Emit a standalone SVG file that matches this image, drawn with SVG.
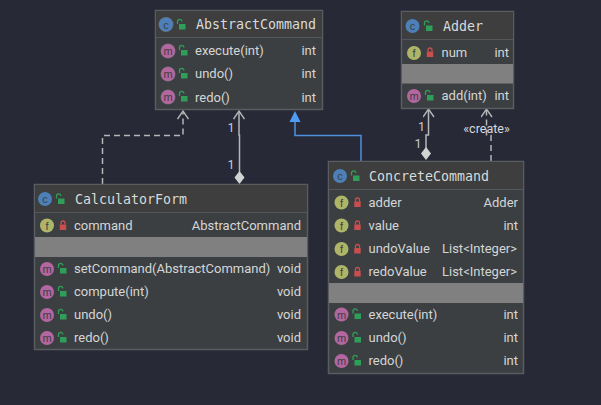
<svg xmlns="http://www.w3.org/2000/svg" width="601" height="405" viewBox="0 0 601 405">
  <style>
    text { font-family: Roboto, "Liberation Sans", sans-serif; font-size: 13px; fill: #d4d6d6; }
    .title { font-family: "DejaVu Sans Mono", monospace; font-size: 13.3px; fill: #d8dadb; }
    .end { text-anchor: end; }
    .mark { font-size: 11px; fill: #3c3f41; text-anchor: middle; font-family: "Liberation Sans", sans-serif; }
    .card { fill: #3c3f41; stroke: #5a5d5f; stroke-width: 1.5; }
    .head { fill: #3d3e3d; }
    .rule { stroke: #55585a; stroke-width: 1; }
    .gray { fill: #808080; }
    .wire { fill: none; stroke: #b4b6b7; stroke-width: 1.5; }
    .dash { stroke-dasharray: 6 4; }
    .small { font-size: 12.5px; fill: #c8cacb; text-anchor: middle; }
  </style>
  <defs>
    <g id="lock-open">
      <path d="M-3.500 -1 v-2.500 a2.200 2.200 0 0 1 4.400 0" fill="none" stroke="#2f9e58" stroke-width="1.3"/>
      <rect x="-2" y="-1" width="6.500" height="5.500" fill="#2f9e58"/>
    </g>
    <g id="lock-shut">
      <path d="M-2 -1 v-1.500 a2 2 0 0 1 4 0 v1.500" fill="none" stroke="#c94f4f" stroke-width="1.3"/>
      <rect x="-3.200" y="-1" width="6.400" height="5.500" fill="#c94f4f"/>
    </g>
    <g id="icon-c"><circle r="7" fill="#4d7fb8"/><text class="mark" y="4">c</text></g>
    <g id="icon-f"><circle r="7" fill="#aeb569"/><text class="mark" y="4">f</text></g>
    <g id="icon-m"><circle r="7" fill="#b3669f"/><text class="mark" y="4">m</text></g>
    <path id="diamond" d="M0 0 L5 6.500 L0 13 L-5 6.500 Z" fill="#d2d3d3"/>
    <marker id="open" markerWidth="10" markerHeight="12" refX="9" refY="6" orient="auto" markerUnits="userSpaceOnUse" viewBox="0 0 10 12">
      <path d="M1 0.500 L9 6 L1 11.500" fill="none" stroke="#b4b6b7" stroke-width="1.4"/>
    </marker>
  </defs>
  <rect width="601" height="405" fill="#272937"/>

  <g id="connectors">
    <path class="wire dash" d="M102.500 184 V135.500 H183 V111" marker-end="url(#open)"/>
    <path class="wire" d="M239.500 172 V135 H239 V111" marker-end="url(#open)"/>
    <use href="#diamond" x="239.500" y="171"/>
    <path d="M361 161 V135.500 H295 V121" fill="none" stroke="#4f8fe0" stroke-width="1.500"/>
    <path d="M295 111 L300.500 122 L289.500 122 Z" fill="#4f9cf5"/>
    <path class="wire" d="M426 148 V135 H428.500 V109" stroke-width="2" marker-end="url(#open)"/>
    <use href="#diamond" x="426" y="147"/>
    <path class="wire dash" d="M491 161 V135.500 H486.500 V109" marker-end="url(#open)"/>
    <text class="small" x="231" y="132">1</text>
    <text class="small" x="231" y="169">1</text>
    <text class="small" x="421.500" y="131">1</text>
    <text class="small" x="418" y="148">1</text>
    <text class="small" x="486.500" y="133" style="fill:#d8dadb">«create»</text>
  </g>

  <g id="AbstractCommand">
    <rect class="card" x="155.500" y="10.500" width="167" height="99"/>
    <rect class="head" x="156" y="11" width="166" height="26"/>
    <line class="rule" x1="156" y1="37.500" x2="322" y2="37.500"/>
    <circle cx="166" cy="24.500" r="7.500" fill="#6a6d6f"/>
    <use href="#icon-c" x="166" y="24.500"/>
    <use href="#lock-open" x="181" y="25"/>
    <text class="title" x="196" y="29">AbstractCommand</text>
    <circle cx="168" cy="51" r="7.500" fill="#6a6d6f"/><use href="#icon-m" x="168" y="51"/><use href="#lock-open" x="183" y="51"/>
    <text x="195" y="55">execute(int)</text><text class="end" x="316" y="55">int</text>
    <circle cx="168" cy="74" r="7.500" fill="#6a6d6f"/><use href="#icon-m" x="168" y="74"/><use href="#lock-open" x="183" y="74"/>
    <text x="195" y="78">undo()</text><text class="end" x="316" y="78">int</text>
    <circle cx="168" cy="97" r="7.500" fill="#6a6d6f"/><use href="#icon-m" x="168" y="97"/><use href="#lock-open" x="183" y="97"/>
    <text x="195" y="102">redo()</text><text class="end" x="316" y="102">int</text>
  </g>

  <g id="Adder">
    <rect class="card" x="401.500" y="11.500" width="112" height="97"/>
    <rect class="head" x="402" y="12" width="111" height="27"/>
    <line class="rule" x1="402" y1="39.500" x2="513" y2="39.500"/>
    <use href="#icon-c" x="412.500" y="26"/>
    <use href="#lock-open" x="428" y="26.500"/>
    <text class="title" x="443" y="31">Adder</text>
    <use href="#icon-f" x="414" y="53"/><use href="#lock-shut" x="430" y="52.500"/>
    <text x="441.500" y="57">num</text><text class="end" x="509" y="57">int</text>
    <rect class="gray" x="402" y="64" width="111" height="19.500"/>
    <use href="#icon-m" x="414" y="96"/><use href="#lock-open" x="429" y="96"/>
    <text x="441.500" y="100">add(int)</text><text class="end" x="509" y="100">int</text>
  </g>

  <g id="CalculatorForm">
    <rect class="card" x="34.500" y="184.500" width="273" height="165"/>
    <rect class="head" x="35" y="185" width="272" height="27"/>
    <line class="rule" x1="35" y1="212.500" x2="307" y2="212.500"/>
    <use href="#icon-c" x="45" y="199"/>
    <use href="#lock-open" x="60" y="199.500"/>
    <text class="title" x="75" y="203.500">CalculatorForm</text>
    <use href="#icon-f" x="47" y="225.500"/><use href="#lock-shut" x="63" y="225.500"/>
    <text x="74" y="230">command</text><text class="end" x="301" y="230">AbstractCommand</text>
    <rect class="gray" x="35" y="237" width="272" height="20"/>
    <use href="#icon-m" x="47" y="269"/><use href="#lock-open" x="62" y="269"/>
    <text x="74" y="273">setCommand(AbstractCommand)</text><text class="end" x="301" y="273">void</text>
    <use href="#icon-m" x="47" y="292"/><use href="#lock-open" x="62" y="292"/>
    <text x="74" y="296">compute(int)</text><text class="end" x="301" y="296">void</text>
    <use href="#icon-m" x="47" y="315"/><use href="#lock-open" x="62" y="315"/>
    <text x="74" y="319">undo()</text><text class="end" x="301" y="319">void</text>
    <use href="#icon-m" x="47" y="338"/><use href="#lock-open" x="62" y="338"/>
    <text x="74" y="342">redo()</text><text class="end" x="301" y="342">void</text>
  </g>

  <g id="ConcreteCommand">
    <rect class="card" x="328.500" y="161.500" width="195" height="212"/>
    <rect class="head" x="329" y="162" width="194" height="27"/>
    <line class="rule" x1="329" y1="189.500" x2="523" y2="189.500"/>
    <use href="#icon-c" x="340" y="176"/>
    <use href="#lock-open" x="355" y="176.500"/>
    <text class="title" x="369" y="180.500">ConcreteCommand</text>
    <use href="#icon-f" x="341.500" y="202.500"/><use href="#lock-shut" x="357.500" y="202.500"/>
    <text x="368.500" y="207">adder</text><text class="end" x="518" y="207">Adder</text>
    <use href="#icon-f" x="341.500" y="225.500"/><use href="#lock-shut" x="357.500" y="225.500"/>
    <text x="368.500" y="230">value</text><text class="end" x="518" y="230">int</text>
    <use href="#icon-f" x="341.500" y="249"/><use href="#lock-shut" x="357.500" y="249"/>
    <text x="368.500" y="253">undoValue</text><text class="end" x="517" y="253">List&lt;Integer&gt;</text>
    <use href="#icon-f" x="341.500" y="272"/><use href="#lock-shut" x="357.500" y="272"/>
    <text x="368.500" y="276">redoValue</text><text class="end" x="517" y="276">List&lt;Integer&gt;</text>
    <rect class="gray" x="329" y="283" width="194" height="20"/>
    <use href="#icon-m" x="341.500" y="314.500"/><use href="#lock-open" x="356.500" y="314.500"/>
    <text x="368.500" y="319">execute(int)</text><text class="end" x="518" y="319">int</text>
    <use href="#icon-m" x="341.500" y="338"/><use href="#lock-open" x="356.500" y="338"/>
    <text x="368.500" y="342">undo()</text><text class="end" x="518" y="342">int</text>
    <use href="#icon-m" x="341.500" y="361"/><use href="#lock-open" x="356.500" y="361"/>
    <text x="368.500" y="365">redo()</text><text class="end" x="518" y="365">int</text>
  </g>
</svg>
